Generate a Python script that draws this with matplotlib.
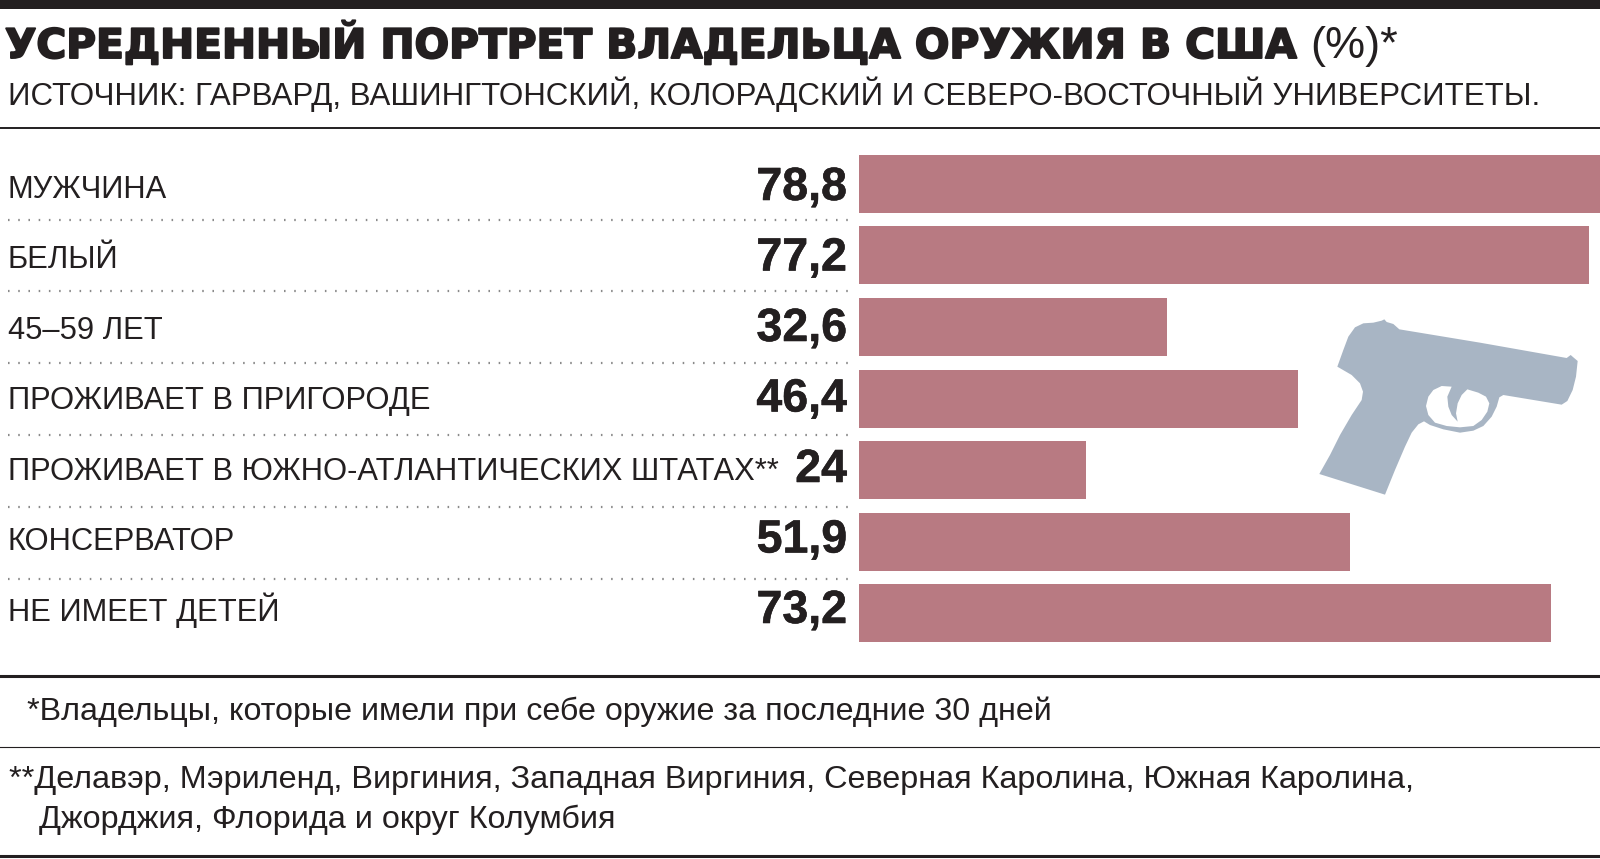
import matplotlib
matplotlib.use("Agg")
import matplotlib.pyplot as plt
import matplotlib.patheffects as pe
from matplotlib.patches import PathPatch
from matplotlib.path import Path

# Data
labels = ["МУЖЧИНА", "БЕЛЫЙ", "45–59 ЛЕТ", "ПРОЖИВАЕТ В ПРИГОРОДЕ",
          "ПРОЖИВАЕТ В ЮЖНО-АТЛАНТИЧЕСКИХ ШТАТАХ**", "КОНСЕРВАТОР", "НЕ ИМЕЕТ ДЕТЕЙ"]
values = [78.8, 77.2, 32.6, 46.4, 24, 51.9, 73.2]
value_labels = ["78,8", "77,2", "32,6", "46,4", "24", "51,9", "73,2"]

title = "УСРЕДНЕННЫЙ ПОРТРЕТ ВЛАДЕЛЬЦА ОРУЖИЯ В США"
title_unit = "(%)*"
source = "ИСТОЧНИК: ГАРВАРД, ВАШИНГТОНСКИЙ, КОЛОРАДСКИЙ И СЕВЕРО-ВОСТОЧНЫЙ УНИВЕРСИТЕТЫ."
note1 = "*Владельцы, которые имели при себе оружие за последние 30 дней"
note2a = "**Делавэр, Мэриленд, Виргиния, Западная Виргиния, Северная Каролина, Южная Каролина,"
note2b = "Джорджия, Флорида и округ Колумбия"

# Gun silhouette (pixels)
gun_outer = [(172, 200), (190, 150), (205, 110), (225, 82), (250, 70), (280, 68), (305, 62),
             (313, 58), (320, 66), (340, 72), (358, 88), (600, 128), (860, 174), (872, 165),
             (880, 172), (893, 183), (888, 230), (878, 270), (862, 303), (845, 314), (670, 285),
             (658, 292), (650, 320), (635, 350), (610, 378), (580, 392), (540, 398), (490, 388),
             (450, 375), (432, 364), (415, 373), (395, 398), (375, 440), (345, 510), (315, 584),
             (118, 522), (150, 465), (180, 405), (215, 345), (245, 300), (249, 275), (240, 250),
             (215, 225), (172, 200)]
gun_hole = [(515, 260), (485, 258), (460, 270), (445, 290), (438, 318), (445, 345), (465, 368),
            (500, 378), (540, 382), (580, 378), (605, 360), (622, 335), (628, 310), (618, 290),
            (595, 278), (562, 268), (545, 285), (533, 310), (528, 340), (533, 365), (515, 345),
            (505, 320), (502, 290), (515, 260)]

INK = "#231f20"
BAR = "#b87a82"
GUN = "#a8b5c4"
W, H = 1600, 859

plt.rcParams["font.family"] = ["Liberation Sans", "DejaVu Sans"]
fig = plt.figure(figsize=(W / 100, H / 100), dpi=100, facecolor="white")

# Overlay in pixel coordinates for text and rules
bg = fig.add_axes([0, 0, 1, 1])
bg.set_xlim(0, W)
bg.set_ylim(H, 0)
bg.axis("off")

# Bars
top, pitch = 148, 71.6
ax = fig.add_axes([859 / W, 1 - (top + 7 * pitch) / H, 741 / W, 7 * pitch / H])
ax.barh(range(len(values)), values, height=0.81, color=BAR)
ax.set_xlim(0, 78.33)
ax.set_ylim(6.5, -0.5)
ax.axis("off")

# Rules
bg.fill_between([0, W], 0, 9, color=INK, lw=0)
bg.plot([0, W], [127.5, 127.5], color=INK, lw=1.4)
bg.plot([0, W], [676, 676], color=INK, lw=2.2)
bg.plot([0, W], [746.5, 746.5], color=INK, lw=0.8)
bg.plot([0, W], [856, 856], color=INK, lw=2.2)

for i in range(len(labels)):
    bg.text(8, 198 + 70.5 * i, labels[i], fontsize=22.2, color=INK, va="baseline")
    bg.text(847, 200 + 70.5 * i, value_labels[i], fontsize=33.5, fontweight="bold", color=INK,
            va="baseline", ha="right", path_effects=[pe.withStroke(linewidth=0.4, foreground=INK)])
    if i < len(labels) - 1:
        y = 219.5 + 71.9 * i
        bg.plot([8, 850], [y, y], color="#8a8a8a", lw=1.6, linestyle=(0, (0.7, 3.9)))

bg.text(5, 58, title, family="DejaVu Sans", fontsize=29.3, fontweight="bold", color=INK,
        va="baseline", path_effects=[pe.withStroke(linewidth=1.4, foreground=INK)])
bg.text(1310, 58, title_unit, fontsize=32.5, color=INK, va="baseline")
bg.text(8, 105, source, fontsize=22.5, color=INK, va="baseline")

bg.text(27, 720, note1, fontsize=23.2, color=INK, va="baseline")
bg.text(9, 788, note2a, fontsize=23.3, color=INK, va="baseline")
bg.text(39, 828, note2b, fontsize=23.3, color=INK, va="baseline")

# Gun on top of everything else
def to_px(points):
    return [(1280 + x / 3, 300 + y / 3) for x, y in points]

verts = to_px(gun_outer) + to_px(gun_hole)
codes = ([Path.MOVETO] + [Path.LINETO] * (len(gun_outer) - 1)
         + [Path.MOVETO] + [Path.LINETO] * (len(gun_hole) - 1))
bg.add_patch(PathPatch(Path(verts, codes), facecolor=GUN, edgecolor="none", lw=0))

fig.savefig("out.png", dpi=100, facecolor="white")
